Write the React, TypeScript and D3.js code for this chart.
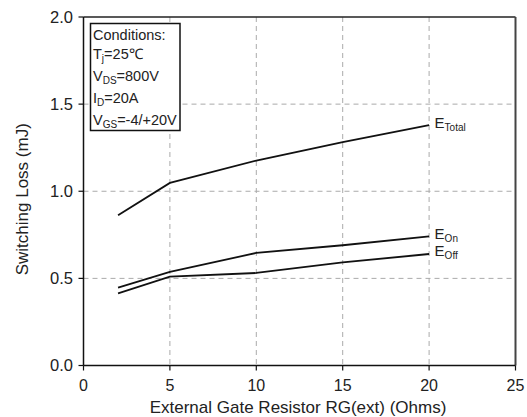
import React from "react";
import * as d3 from "d3";

const rg = [2, 5, 10, 15, 20];
const eTotal = [0.862, 1.048, 1.176, 1.282, 1.379];
const eOn = [0.447, 0.537, 0.646, 0.69, 0.741];
const eOff = [0.414, 0.51, 0.531, 0.592, 0.64];
const xTicks = [0, 5, 10, 15, 20, 25];
const yTicks = [0, 0.5, 1.0, 1.5, 2.0];
const seriesNames = ["Total", "On", "Off"];

const W = 527, H = 417;
const L = 83.5, R = 515.5, T = 17, B = 365.5;
const FONT = "'Liberation Sans', Arial, sans-serif";

export default function App() {
  const x = d3.scaleLinear().domain([0, 25]).range([L, R]);
  const y = d3.scaleLinear().domain([0, 2]).range([B, T]);
  const line = d3.line<number>().x((_, i) => x(rg[i])).y((d) => y(d));
  const series = [eTotal, eOn, eOff];
  return (
    <svg width={W} height={H} style={{ position: "absolute", left: 0, top: 0 }} fontFamily={FONT}>
      <rect width={W} height={H} fill="#fff" />
      {xTicks.slice(1, -1).map((t) => (
        <line key={"gx" + t} x1={x(t)} x2={x(t)} y1={T} y2={B} stroke="#aaa" strokeDasharray="5,4" strokeWidth={1} />
      ))}
      {yTicks.slice(1, -1).map((t) => (
        <line key={"gy" + t} x1={L} x2={R} y1={y(t)} y2={y(t)} stroke="#aaa" strokeDasharray="5,4" strokeWidth={1} />
      ))}
      <line x1={L} x2={R} y1={T} y2={T} stroke="#222" strokeWidth={1.5} />
      <line x1={R} x2={R} y1={T} y2={B} stroke="#444" strokeWidth={2} />
      <line x1={L} x2={L} y1={T} y2={B} stroke="#111" strokeWidth={1.5} />
      <line x1={L} x2={R} y1={B} y2={B} stroke="#111" strokeWidth={1.5} />
      {xTicks.map((t) => (
        <g key={"tx" + t}>
          <line x1={x(t)} x2={x(t)} y1={B} y2={B + 5} stroke="#111" strokeWidth={1.2} />
          <text x={x(t)} y={390.5} textAnchor="middle" fontSize={16} fill="#222">{t}</text>
        </g>
      ))}
      {yTicks.map((t) => (
        <g key={"ty" + t}>
          <line x1={L - 5} x2={L} y1={y(t)} y2={y(t)} stroke="#111" strokeWidth={1.2} />
          <text x={L - 10.5} y={y(t) + 5.5} textAnchor="end" fontSize={16.5} fill="#222">{t.toFixed(1)}</text>
        </g>
      ))}
      {series.map((s, i) => (
        <path key={"s" + i} d={line(s) || ""} fill="none" stroke="#111" strokeWidth={1.8} />
      ))}
      {series.map((s, i) => (
        <text key={"l" + i} x={x(20) + 5.5} y={y(s[s.length - 1]) + 2.5} fontSize={15} fill="#222">
          E<tspan fontSize={10} dy={3}>{seriesNames[i]}</tspan>
        </text>
      ))}
      <rect x={90.5} y={23.5} width={89.5} height={107} fill="#fff" stroke="#111" strokeWidth={1.5} />
      <g fontSize={14.5} fill="#222">
        <text x={93} y={39.5}>Conditions:</text>
        <text x={93} y={59}>T<tspan fontSize={10} dy={3}>j</tspan><tspan dy={-3}>=25℃</tspan></text>
        <text x={93} y={80.5}>V<tspan fontSize={10} dy={3}>DS</tspan><tspan dy={-3}>=800V</tspan></text>
        <text x={93} y={103}>I<tspan fontSize={10} dy={3}>D</tspan><tspan dy={-3}>=20A</tspan></text>
        <text x={93} y={125}>V<tspan fontSize={10} dy={3}>GS</tspan><tspan dy={-3}>=-4/+20V</tspan></text>
      </g>
      <text x={298} y={413} textAnchor="middle" fontSize={17} fill="#222">External Gate Resistor RG(ext) (Ohms)</text>
      <text transform={`translate(28, ${(T + B) / 2 + 8}) rotate(-90)`} textAnchor="middle" fontSize={17} fill="#222">Switching Loss (mJ)</text>
    </svg>
  );
}
